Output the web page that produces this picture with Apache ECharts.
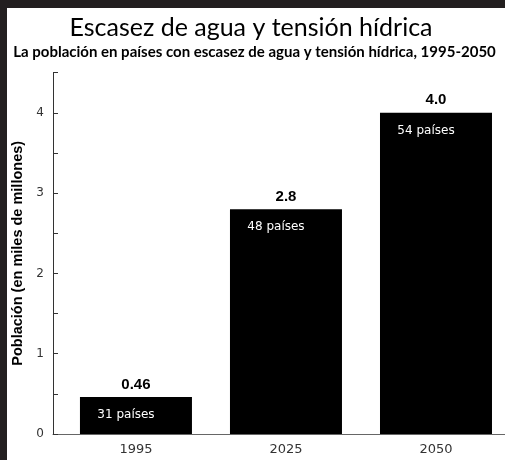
<!DOCTYPE html>
<html>
<head>
<meta charset="utf-8">
<script src="https://cdn.jsdelivr.net/npm/echarts@6/dist/echarts.min.js"></script>
<style>
  html, body { margin: 0; padding: 0; background: #231f20; }
  #chart { position: absolute; left: 7px; top: 8px; width: 498px; height: 452px; background: #fff; }
</style>
</head>
<body>
<div id="chart"></div>
<script>
// datos
var anios = ['1995', '2025', '2050'];
var poblacion = [0.46, 2.8, 4.0];
var poblacionTexto = ['0.46', '2.8', '4.0'];
var paises = ['31 países', '48 países', '54 países'];

var myChart = echarts.init(document.getElementById('chart'));

var datosBarras = poblacion.map(function (v, i) { return [i, v]; });

var option = {
    animation: false,
    backgroundColor: '#fff',
    graphic: [
        {
            type: 'text',
            x: 244, y: 20,
            style: {
                text: 'Escasez de agua y tensión hídrica',
                font: '25px Lato',
                fill: '#000',
                textAlign: 'center',
                textVerticalAlign: 'middle'
            }
        },
        {
            type: 'text',
            x: 247.5, y: 44,
            style: {
                text: 'La población en países con escasez de agua y tensión hídrica, 1995-2050',
                font: 'bold 15px Lato',
                fill: '#000',
                textAlign: 'center',
                textVerticalAlign: 'middle'
            }
        }
    ],
    grid: {
        left: 46,
        right: 0,
        top: 64.6,
        bottom: 26,
        outerBoundsMode: 'none'
    },
    xAxis: {
        type: 'value',
        min: -0.553,
        max: 2.46,
        splitLine: { show: false },
        axisLine: { show: true, onZero: false, lineStyle: { color: '#666', width: 1 } },
        axisTick: { show: false },
        axisLabel: {
            customValues: [0, 1, 2],
            formatter: function (v) { return anios[Math.round(v)]; },
            color: '#333',
            fontFamily: 'DejaVu Sans',
            fontSize: 13,
            margin: 9
        }
    },
    yAxis: {
        type: 'value',
        min: 0,
        max: 4.5,
        interval: 0.5,
        name: 'Población (en miles de millones)',
        nameLocation: 'middle',
        nameRotate: 90,
        nameGap: 25,
        nameTextStyle: {
            color: '#000',
            fontFamily: 'Liberation Sans',
            fontWeight: 'bold',
            fontSize: 14.5
        },
        splitLine: { show: false },
        axisLine: { show: true, onZero: false, lineStyle: { color: '#333', width: 1 } },
        axisTick: { show: true, inside: true, length: 5, lineStyle: { color: '#333' } },
        axisLabel: {
            formatter: function (v) { return v % 1 === 0 ? v : ''; },
            color: '#333',
            fontFamily: 'DejaVu Sans',
            fontSize: 12,
            margin: 9
        }
    },
    series: [
        {
            type: 'bar',
            data: datosBarras,
            barWidth: 112,
            itemStyle: { color: '#000' },
            label: {
                show: true,
                position: 'top',
                distance: 5,
                formatter: function (p) { return poblacionTexto[p.dataIndex]; },
                color: '#000',
                fontFamily: 'Liberation Sans',
                fontWeight: 'bold',
                fontSize: 15
            }
        },
        {
            type: 'bar',
            data: datosBarras,
            barWidth: 112,
            barGap: '-100%',
            itemStyle: { color: 'rgba(0,0,0,0)' },
            label: {
                show: true,
                position: 'insideTop',
                distance: 12,
                offset: [-10, 0],
                formatter: function (p) { return paises[p.dataIndex]; },
                color: '#fff',
                fontFamily: 'DejaVu Sans',
                fontSize: 12
            }
        }
    ]
};

myChart.setOption(option);
</script>
</body>
</html>
